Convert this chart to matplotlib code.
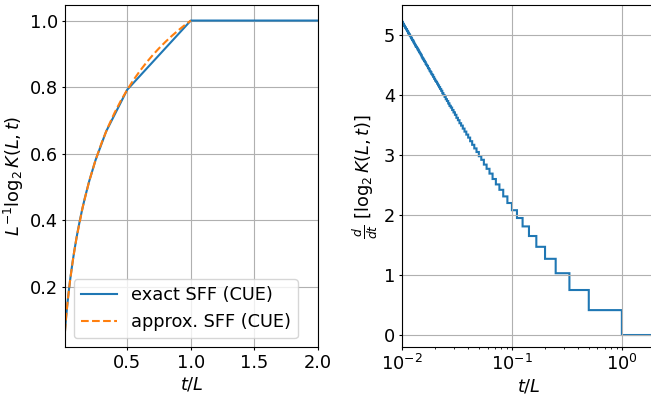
import numpy as np
import matplotlib
matplotlib.use("Agg")
import matplotlib.pyplot as plt

plt.rcParams["font.size"] = 12.8
plt.rcParams["xtick.major.size"] = 2.5
plt.rcParams["ytick.major.size"] = 2.5
plt.rcParams["xtick.minor.size"] = 1.5
plt.rcParams["xtick.major.pad"] = 2.5
plt.rcParams["ytick.major.pad"] = 2.5
plt.rcParams["axes.labelpad"] = 2.5

# exact SFF (CUE), nodes at t/L = 1/n plus the plateau
t_exact = [0.01, 0.0143, 0.02, 0.025, 0.0333, 0.04, 0.05, 0.0667, 0.0833, 0.1,
           0.1111, 0.125, 0.1429, 0.1667, 0.2, 0.25, 0.3333, 0.5, 1.0, 2.0]
logK_exact = [0.0666, 0.0879, 0.1134, 0.1339, 0.1651, 0.1880, 0.2196, 0.2667, 0.3084, 0.3459,
              0.3691, 0.3962, 0.4286, 0.4679, 0.5170, 0.5805, 0.6667, 0.7925, 1.0, 1.0]

# approx. SFF (CUE)
t_approx = [0.01, 0.02, 0.03, 0.05, 0.075, 0.1, 0.15, 0.2, 0.25, 0.3, 0.35, 0.4,
            0.45, 0.5, 0.55, 0.6, 0.65, 0.7, 0.75, 0.8, 0.85, 0.9, 0.95, 1.0]
logK_approx = [0.0666, 0.1134, 0.1530, 0.2196, 0.2881, 0.3459, 0.4408, 0.5170, 0.5805, 0.6347,
               0.6816, 0.7230, 0.7597, 0.7925, 0.8221, 0.8490, 0.8736, 0.8961, 0.9168, 0.9359,
               0.9537, 0.9702, 0.9857, 1.0]

# derivative steps, plateau t/L in [1/m, 1/(m-1)] for m = 101 ... 2, then [1, 2]
n_steps = np.arange(101, 0, -1)
rate = [5.24, 5.22, 5.21, 5.19, 5.18, 5.16, 5.15, 5.13, 5.12, 5.10,
        5.09, 5.07, 5.06, 5.04, 5.02, 5.01, 4.99, 4.98, 4.96, 4.94,
        4.92, 4.91, 4.89, 4.87, 4.85, 4.83, 4.81, 4.80, 4.78, 4.76,
        4.74, 4.72, 4.70, 4.68, 4.66, 4.63, 4.61, 4.59, 4.57, 4.55,
        4.52, 4.50, 4.48, 4.45, 4.43, 4.40, 4.38, 4.35, 4.33, 4.30,
        4.27, 4.24, 4.22, 4.19, 4.16, 4.13, 4.10, 4.07, 4.03, 4.00,
        3.97, 3.93, 3.90, 3.86, 3.82, 3.79, 3.75, 3.71, 3.67, 3.62,
        3.58, 3.53, 3.49, 3.44, 3.39, 3.34, 3.29, 3.23, 3.17, 3.11,
        3.05, 2.98, 2.92, 2.84, 2.77, 2.69, 2.60, 2.51, 2.42, 2.31,
        2.20, 2.08, 1.95, 1.81, 1.65, 1.47, 1.27, 1.03, 0.75, 0.415,
        0.0]
edges = np.append(1.0 / n_steps, 2.0)

fig = plt.figure(figsize=(6.51, 3.97), dpi=100)
ax1 = fig.add_axes([0.0998, 0.1259, 0.3886, 0.8615])
ax2 = fig.add_axes([0.6175, 0.1259, 0.3886, 0.8615])

ax1.plot(t_exact, logK_exact, label="exact SFF (CUE)")
ax1.plot(t_approx, logK_approx, "--", label="approx. SFF (CUE)")
ax1.set_xlim(0.01, 2.0)
ax1.set_xlabel(r"$t/L$")
ax1.set_ylabel(r"$L^{-1}\log_2 K(L,t)$")
ax1.grid(True)
ax1.legend(loc="lower left")

st = ax2.stairs(rate, edges, baseline=None, linewidth=1.5)
st.set_snap(False)
ax2.set_xscale("log")
ax2.set_xlim(0.01, 2.0)
ax2.set_ylim(-0.2, 5.5)
ax2.set_xlabel(r"$t/L$")
ax2.set_ylabel(r"$\frac{d}{dt}\ [\log_2 K(L,t)]$")
ax2.grid(True)

fig.savefig("out.png", dpi=100)
